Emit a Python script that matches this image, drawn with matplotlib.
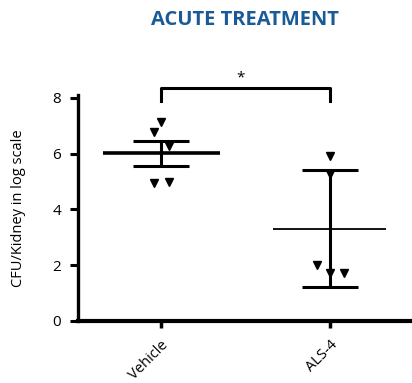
import matplotlib
matplotlib.use("Agg")
import matplotlib.pyplot as plt

plt.rcParams['font.family'] = ['Open Sans', 'DejaVu Sans']

groups = ["Vehicle", "ALS-4"]
vehicle_pts = [7.14, 6.76, 6.28, 4.96, 4.99]
vehicle_dx = [0.0, -0.04, 0.05, -0.04, 0.05]
als_pts = [5.93, 5.27, 2.01, 1.73, 1.73]
als_dx = [0.0, 0.0, -0.08, 0.0, 0.08]
means = [6.02, 3.30]
err_low = [0.46, 2.09]
err_high = [0.44, 2.10]
yticks = [0, 2, 4, 6, 8]

fig = plt.figure(figsize=(4.12, 3.83), dpi=100)
ax = fig.add_axes([0.189, 0.162, 0.806, 0.590])

# points
for i, (pts, dx) in enumerate([(vehicle_pts, vehicle_dx), (als_pts, als_dx)]):
    ax.plot([i + d for d in dx], pts, 'v', color='black', ms=5.8, zorder=3)

# mean lines
ax.hlines(means[0], -0.34, 0.35, color='black', lw=2.6)
ax.hlines(means[1], 0.66, 1.33, color='black', lw=1.3)

# error bars
for i in range(2):
    ax.errorbar(i, means[i], yerr=[[err_low[i]], [err_high[i]]], fmt='none',
                ecolor='black', elinewidth=2.2, capsize=20, capthick=2.2)

# significance bracket
ax.plot([0, 0, 1, 1], [7.9, 8.36, 8.36, 7.9], color='black', lw=2.2, clip_on=False)
ax.text(0.47, 8.45, '*', ha='center', va='bottom', fontsize=11, clip_on=False)

ax.set_xlim(-0.49, 1.47)
ax.set_ylim(0, 8.1)
ax.set_yticks(yticks)
ax.set_xticks([0, 1])
ax.set_xticklabels(groups, rotation=45, ha='right', rotation_mode='anchor', fontsize=10.5)
ax.tick_params(axis='y', labelsize=11, width=2.2, length=6, pad=6)
ax.tick_params(axis='x', width=2.5, length=5, pad=7)
for s in ['top', 'right']:
    ax.spines[s].set_visible(False)
ax.spines['left'].set_linewidth(2.4)
ax.spines['bottom'].set_linewidth(3)
ax.set_ylabel('CFU/Kidney in log scale', fontsize=10.5, labelpad=19)

fig.text(0.595, 0.948, 'ACUTE TREATMENT', ha='center', va='center',
         fontsize=14.5, fontweight='bold', color='#1a5a96')

fig.savefig('out.png', dpi=100)
